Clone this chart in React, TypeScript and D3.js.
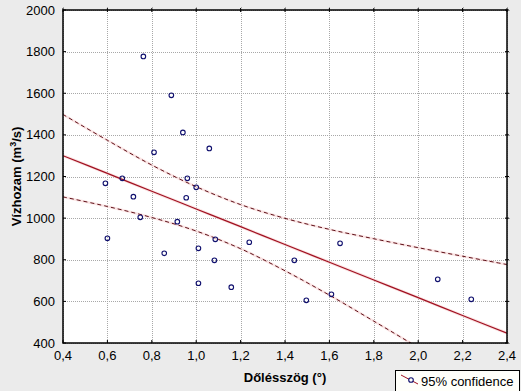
import React from "react";
import * as d3 from "d3";

const dipAngle = [0.762, 0.888, 0.94, 0.81, 1.059, 0.591, 0.667, 0.96, 1.0, 0.717, 0.955, 0.748, 0.915, 0.6, 1.086, 1.01, 1.239, 0.856, 1.082, 1.01, 1.158, 1.648, 1.442, 1.496, 1.609, 2.088, 2.239];
const discharge = [1777, 1590, 1412, 1316, 1335, 1167, 1191, 1191, 1148, 1103, 1098, 1004, 983, 903, 898, 855, 884, 831, 797, 687, 668, 879, 797, 605, 634, 706, 610];

const bandX = [0.4, 0.6, 0.8, 1.0, 1.2, 1.4, 1.6, 1.8, 2.0, 2.2, 2.4];
const fitY = [1300, 1215, 1129, 1044, 959, 873, 788, 703, 618, 532, 447];
const upperY = [1498, 1374, 1255, 1151, 1065, 999, 946, 901, 858, 817, 777];
const lowerY = [1102, 1056, 1003, 938, 853, 747, 630, 505, 378, 247, 117];

const xTicks = [0.4, 0.6, 0.8, 1.0, 1.2, 1.4, 1.6, 1.8, 2.0, 2.2, 2.4];
const yTicks = [400, 600, 800, 1000, 1200, 1400, 1600, 1800, 2000];

const W = 521, H = 391;
const L = 63, R = 507, T = 10, B = 343;
const FONT = "'Liberation Sans', Arial, sans-serif";

export default function App() {
  const x = d3.scaleLinear().domain([0.4, 2.4]).range([L, R]);
  const y = d3.scaleLinear().domain([400, 2000]).range([B, T]);
  const fmt = (v: number) => v.toFixed(1).replace(".", ",");

  const mk = (ys: number[]) =>
    d3.line<number>().x((_, i) => x(bandX[i])).y((d) => y(d)).curve(d3.curveCatmullRom)(ys) || "";

  const lineColor = "#a01020";
  const dashColor = "#5e1018";
  const halo = "#f8d4d4";

  return (
    <svg width={W} height={H} style={{ position: "absolute", left: 0, top: 0, display: "block" }}>
      <rect x={0} y={0} width={W} height={H} fill="#ebebeb" />
      <defs>
        <clipPath id="plotclip">
          <rect x={L} y={T} width={R - L} height={B - T} />
        </clipPath>
      </defs>
      <rect x={L} y={T} width={R - L} height={B - T} fill="#ffffff" />
      {/* grid */}
      {xTicks.map((t) => (
        <line key={"gx" + t} x1={Math.round(x(t)) + 0.5} x2={Math.round(x(t)) + 0.5} y1={T - 3} y2={B}
          stroke="#a8a8a8" strokeDasharray="1,1" />
      ))}
      {yTicks.map((t) => (
        <line key={"gy" + t} x1={L} x2={R + 3} y1={Math.round(y(t)) + 0.5} y2={Math.round(y(t)) + 0.5}
          stroke="#a8a8a8" strokeDasharray="1,1" />
      ))}
      {/* lines */}
      <g clipPath="url(#plotclip)" fill="none">
        <path d={mk(upperY)} stroke={halo} strokeWidth={2.5} opacity={0.6} />
        <path d={mk(lowerY)} stroke={halo} strokeWidth={2.5} opacity={0.6} />
        <path d={mk(fitY)} stroke={halo} strokeWidth={3} opacity={0.7} />
        <path d={mk(upperY)} stroke={dashColor} strokeWidth={1} strokeDasharray="4,3" />
        <path d={mk(lowerY)} stroke={dashColor} strokeWidth={1} strokeDasharray="4,3" />
        <path d={mk(fitY)} stroke={lineColor} strokeWidth={1.2} />
      </g>
      {/* points */}
      {dipAngle.map((d, i) => (
        <circle key={"p" + i} cx={x(d)} cy={y(discharge[i])} r={2.3} fill="none" stroke="#10106e" strokeWidth={1.1} />
      ))}
      {/* frame */}
      <rect x={L} y={T} width={R - L} height={B - T} fill="none" stroke="#000" strokeWidth={1.5} />
      {/* ticks */}
      {xTicks.map((t) => (
        <g key={"tx" + t}>
          <line x1={x(t)} x2={x(t)} y1={B} y2={B - 3} stroke="#000" />
          <line x1={x(t)} x2={x(t)} y1={T - 2} y2={T + 2} stroke="#000" />
        </g>
      ))}
      {yTicks.map((t) => (
        <g key={"ty" + t}>
          <line x1={L} x2={L + 3} y1={y(t)} y2={y(t)} stroke="#000" />
          <line x1={R - 2} x2={R + 2} y1={y(t)} y2={y(t)} stroke="#000" />
        </g>
      ))}
      {/* tick labels */}
      {yTicks.map((t) => (
        <text key={"ly" + t} x={55} y={y(t)} dy="0.35em" textAnchor="end" fontFamily={FONT} fontSize={13} fill="#000">
          {t}
        </text>
      ))}
      {xTicks.map((t) => (
        <text key={"lx" + t} x={x(t)} y={360} textAnchor="middle" fontFamily={FONT} fontSize={13} fill="#000">
          {fmt(t)}
        </text>
      ))}
      {/* axis titles */}
      <text x={(L + R) / 2} y={382} textAnchor="middle" fontFamily={FONT} fontSize={13} fontWeight="bold" fill="#000">
        Dőlésszög (°)
      </text>
      <text transform={`translate(21,${(T + B) / 2}) rotate(-90)`} textAnchor="middle" fontFamily={FONT} fontSize={13}
        fontWeight="bold" fill="#000">
        Vízhozam (m<tspan dy="-5" fontSize={9}>3</tspan><tspan dy="5">/s)</tspan>
      </text>
      {/* legend */}
      <rect x={395.5} y={370.5} width={124} height={22} fill="#fffffa" stroke="#000" strokeWidth={1} />
      <line x1={401} x2={418} y1={375} y2={384} stroke={lineColor} strokeWidth={1} />
      <circle cx={411} cy={380} r={2.3} fill="#fffffa" stroke="#10106e" strokeWidth={1.1} />
      <text x={421} y={386} fontFamily={FONT} fontSize={13} fill="#000">95% confidence</text>
    </svg>
  );
}
